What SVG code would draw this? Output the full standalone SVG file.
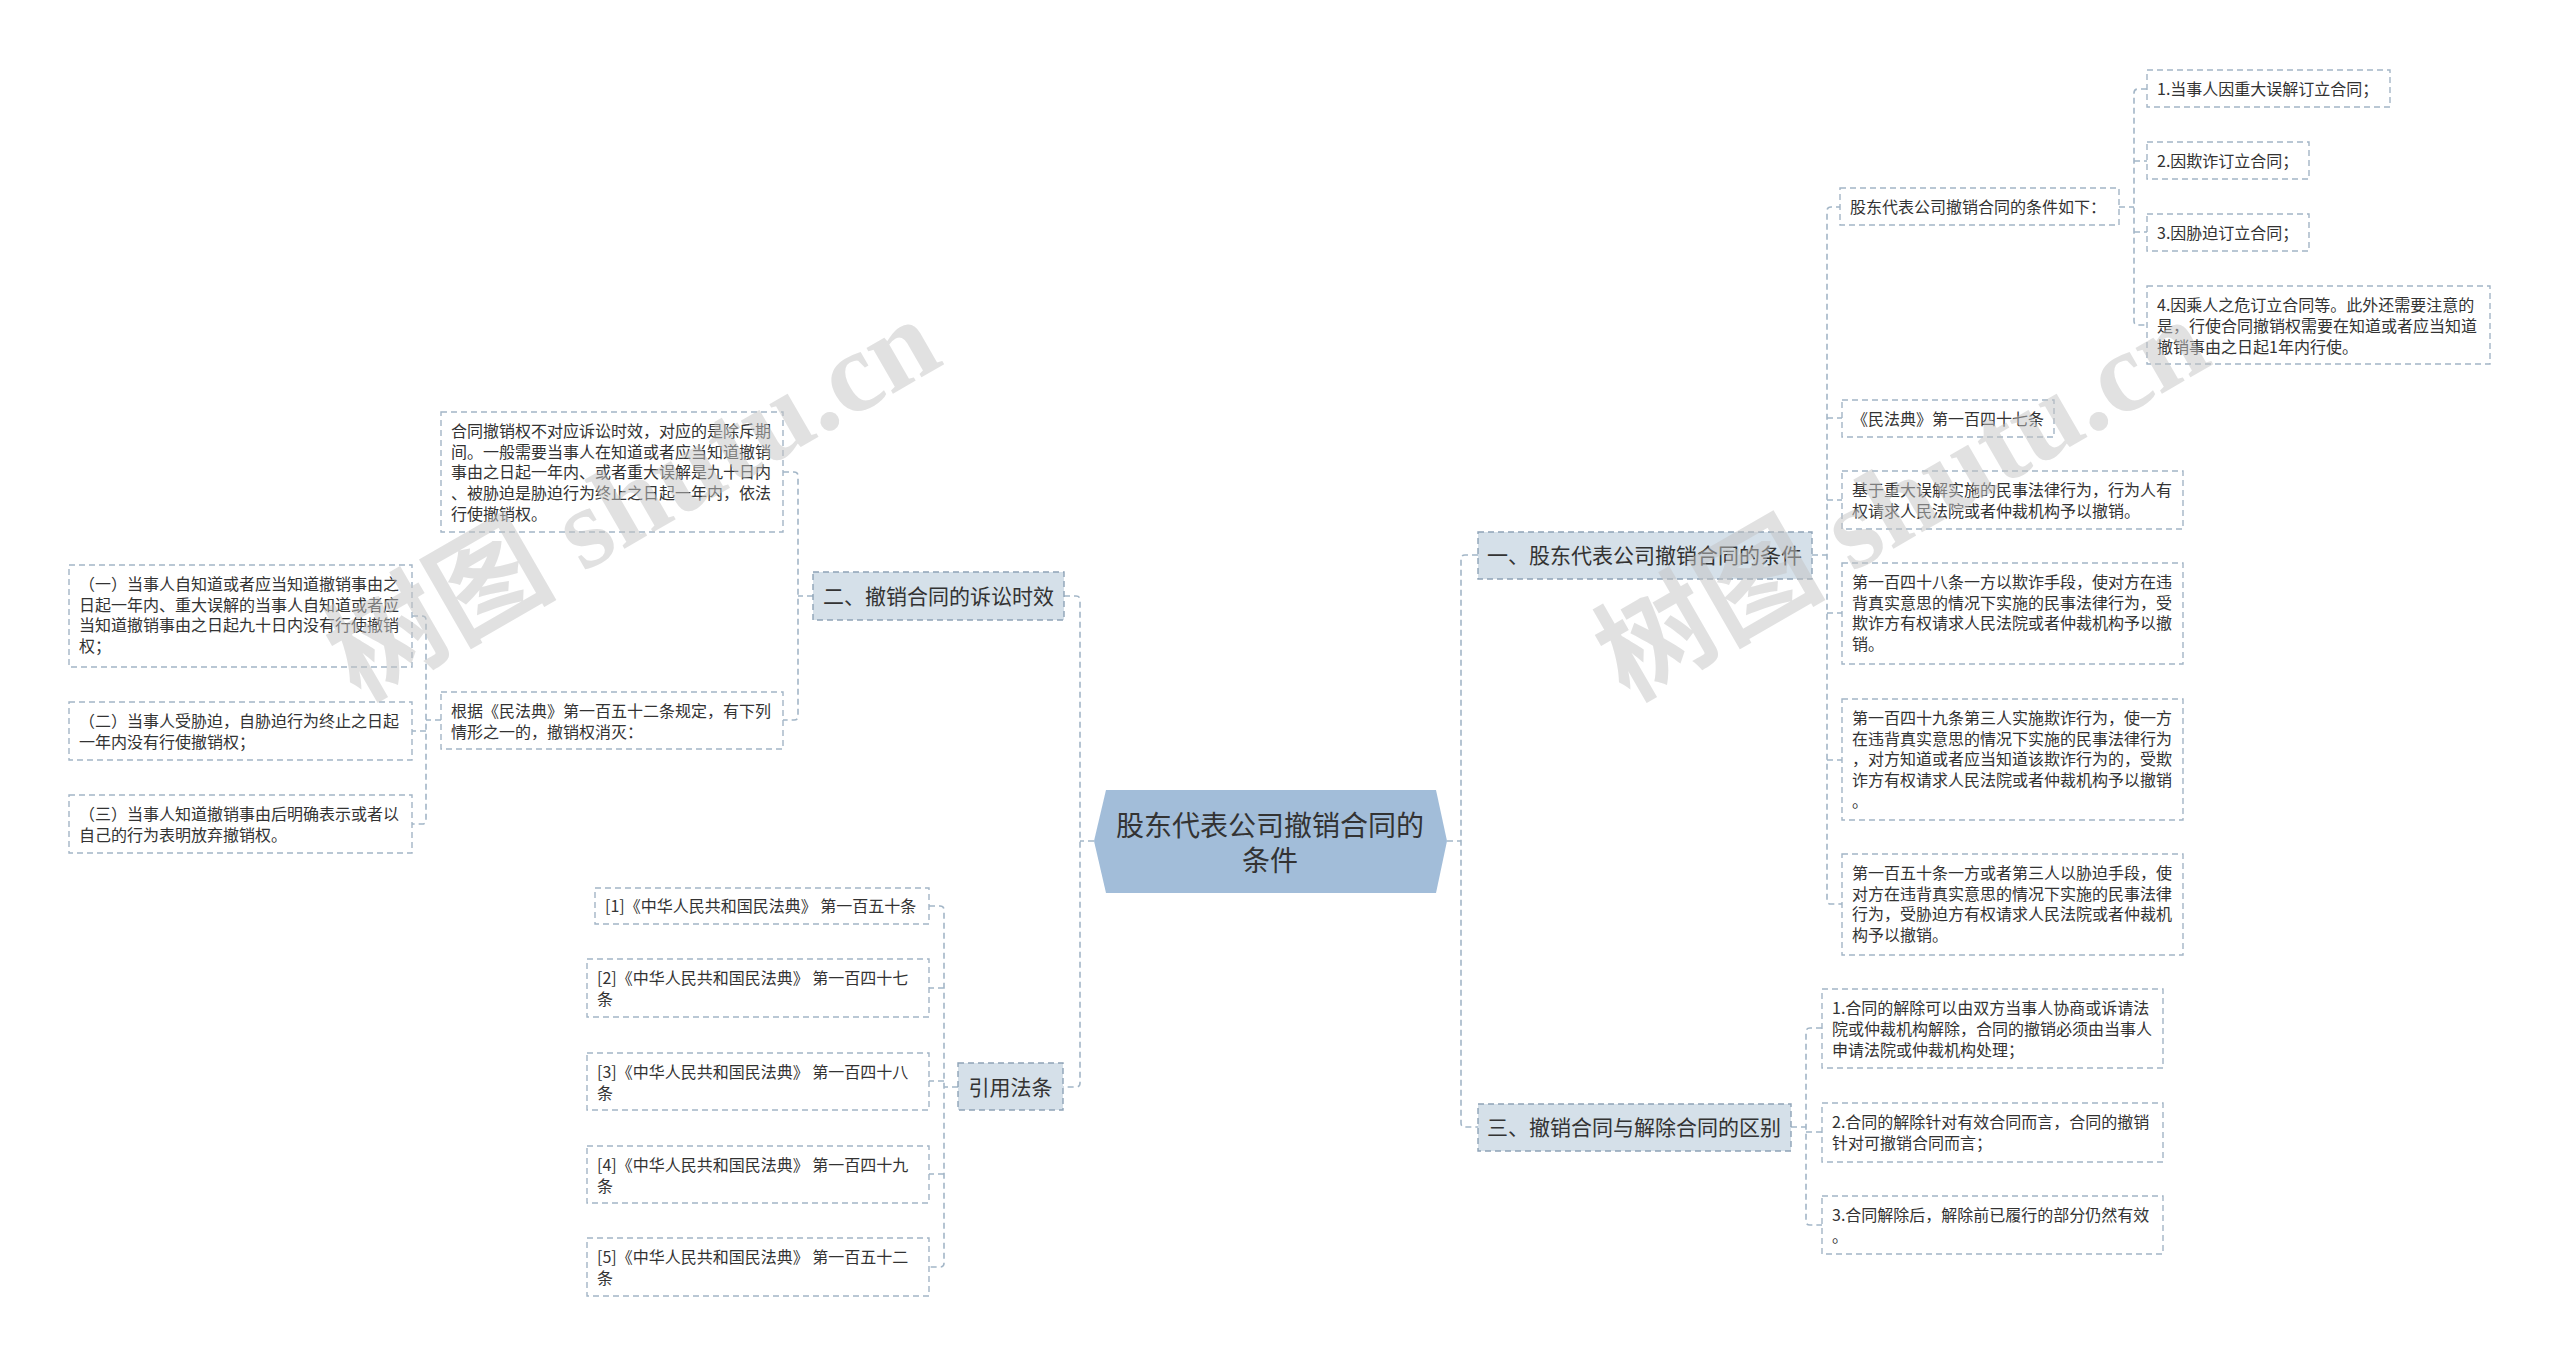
<svg xmlns="http://www.w3.org/2000/svg" width="2560" height="1366" viewBox="0 0 2560 1366">
<style>
text{font-family:"Noto Sans CJK SC","Noto Sans",sans-serif;fill:#333}
.leaf rect{fill:#fff;stroke:#a3b5c6;stroke-width:1.4;stroke-dasharray:6 4}
.leaf text{font-size:16px}
.br rect{fill:#d5e0e9;stroke:#8ea3b7;stroke-width:1.4;stroke-dasharray:6 4}
.br text{font-size:21px}
.conn path{fill:none;stroke:#a3b6c7;stroke-width:1.6;stroke-dasharray:6 4}
.wm{font-family:"Liberation Serif","Noto Sans CJK SC",serif;font-weight:bold;font-size:115px;fill:#c4c4c4;opacity:.5}
</style>
<rect width="2560" height="1366" fill="#fff"/>

<g id="connectors" class="conn">
<path d="M1478,555 H1465 Q1461,555 1461,559 V1123 Q1461,1127 1465,1127 H1478 M1447,841 H1461"/>
<path d="M1064,596 H1076 Q1080,596 1080,600 V1083 Q1080,1087 1076,1087 H1063 M1094,841 H1080"/>
<path d="M1842,207 H1831 Q1827,207 1827,211 V900 Q1827,904 1831,904 H1842 M1812,555 H1827 M1827,418 H1842 M1827,500 H1842 M1827,613 H1842 M1827,760 H1842"/>
<path d="M2147,89 H2138 Q2134,89 2134,93 V321 Q2134,325 2138,325 H2147 M2119,207 H2134 M2134,161 H2147 M2134,232 H2147"/>
<path d="M1822,1028 H1810 Q1806,1028 1806,1032 V1221 Q1806,1225 1810,1225 H1822 M1791,1127 H1806 M1806,1132 H1822"/>
<path d="M783,472 H794 Q798,472 798,476 V716 Q798,720 794,720 H783 M813,596 H798"/>
<path d="M412,616 H422 Q426,616 426,620 V820 Q426,824 422,824 H412 M441,720 H426 M426,731 H412"/>
<path d="M929,906 H940 Q944,906 944,910 V1263 Q944,1267 940,1267 H929 M958,1087 H944 M944,988 H929 M944,1081 H929 M944,1174 H929"/>
</g>

<g id="root">
<polygon points="1094,841 1106,790 1436,790 1447,841 1436,893 1106,893" fill="#a2bdd9"/>
<text x="1270" y="836" font-size="28" text-anchor="middle">股东代表公司撤销合同的</text>
<text x="1270" y="871" font-size="28" text-anchor="middle">条件</text>
</g>

<g id="b1" class="br"><rect x="1478" y="532" width="334" height="47"/><text x="1487" y="563">一、股东代表公司撤销合同的条件</text></g>
<g id="b2" class="br"><rect x="813" y="572" width="251" height="48"/><text x="823" y="604">二、撤销合同的诉讼时效</text></g>
<g id="b3" class="br"><rect x="1478" y="1104" width="313" height="47"/><text x="1487" y="1135">三、撤销合同与解除合同的区别</text></g>
<g id="b4" class="br"><rect x="958" y="1063" width="105" height="47"/><text x="1010.5" y="1095" text-anchor="middle">引用法条</text></g>

<g id="r0" class="leaf"><rect x="1840" y="188" width="279" height="37"/><text x="1850" y="213">股东代表公司撤销合同的条件如下：</text></g>
<g id="r0a" class="leaf"><rect x="2147" y="70" width="243" height="37"/><text x="2157" y="95">1.当事人因重大误解订立合同；</text></g>
<g id="r0b" class="leaf"><rect x="2147" y="142" width="162" height="37"/><text x="2157" y="167">2.因欺诈订立合同；</text></g>
<g id="r0c" class="leaf"><rect x="2147" y="214" width="162" height="37"/><text x="2157" y="239">3.因胁迫订立合同；</text></g>
<g id="r0d" class="leaf"><rect x="2147" y="286" width="343" height="78"/><text x="2157" y="311">4.因乘人之危订立合同等。此外还需要注意的</text><text x="2157" y="332">是，行使合同撤销权需要在知道或者应当知道</text><text x="2157" y="353">撤销事由之日起1年内行使。</text></g>

<g id="r1" class="leaf"><rect x="1842" y="400" width="212" height="37"/><text x="1852" y="425">《民法典》第一百四十七条</text></g>
<g id="r2" class="leaf"><rect x="1842" y="471" width="341" height="58"/><text x="1852" y="496">基于重大误解实施的民事法律行为，行为人有</text><text x="1852" y="517">权请求人民法院或者仲裁机构予以撤销。</text></g>
<g id="r3" class="leaf"><rect x="1842" y="563" width="341" height="101"/><text x="1852" y="588">第一百四十八条一方以欺诈手段，使对方在违</text><text x="1852" y="609">背真实意思的情况下实施的民事法律行为，受</text><text x="1852" y="629">欺诈方有权请求人民法院或者仲裁机构予以撤</text><text x="1852" y="650">销。</text></g>
<g id="r4" class="leaf"><rect x="1842" y="699" width="341" height="121"/><text x="1852" y="724">第一百四十九条第三人实施欺诈行为，使一方</text><text x="1852" y="745">在违背真实意思的情况下实施的民事法律行为</text><text x="1852" y="765">，对方知道或者应当知道该欺诈行为的，受欺</text><text x="1852" y="786">诈方有权请求人民法院或者仲裁机构予以撤销</text><text x="1852" y="807">。</text></g>
<g id="r5" class="leaf"><rect x="1842" y="854" width="341" height="101"/><text x="1852" y="879">第一百五十条一方或者第三人以胁迫手段，使</text><text x="1852" y="900">对方在违背真实意思的情况下实施的民事法律</text><text x="1852" y="920">行为，受胁迫方有权请求人民法院或者仲裁机</text><text x="1852" y="941">构予以撤销。</text></g>

<g id="r6" class="leaf"><rect x="1822" y="989" width="341" height="79"/><text x="1832" y="1014">1.合同的解除可以由双方当事人协商或诉请法</text><text x="1832" y="1035">院或仲裁机构解除，合同的撤销必须由当事人</text><text x="1832" y="1056">申请法院或仲裁机构处理；</text></g>
<g id="r7" class="leaf"><rect x="1822" y="1103" width="341" height="59"/><text x="1832" y="1128">2.合同的解除针对有效合同而言，合同的撤销</text><text x="1832" y="1149">针对可撤销合同而言；</text></g>
<g id="r8" class="leaf"><rect x="1822" y="1196" width="341" height="58"/><text x="1832" y="1221">3.合同解除后，解除前已履行的部分仍然有效</text><text x="1832" y="1242">。</text></g>

<g id="l1" class="leaf"><rect x="441" y="412" width="342" height="120"/><text x="451" y="437">合同撤销权不对应诉讼时效，对应的是除斥期</text><text x="451" y="458">间。一般需要当事人在知道或者应当知道撤销</text><text x="451" y="478">事由之日起一年内、或者重大误解是九十日内</text><text x="451" y="499">、被胁迫是胁迫行为终止之日起一年内，依法</text><text x="451" y="520">行使撤销权。</text></g>
<g id="l2" class="leaf"><rect x="441" y="692" width="342" height="57"/><text x="451" y="717">根据《民法典》第一百五十二条规定，有下列</text><text x="451" y="738">情形之一的，撤销权消灭：</text></g>
<g id="l3" class="leaf"><rect x="69" y="565" width="343" height="102"/><text x="79" y="590">（一）当事人自知道或者应当知道撤销事由之</text><text x="79" y="611">日起一年内、重大误解的当事人自知道或者应</text><text x="79" y="631">当知道撤销事由之日起九十日内没有行使撤销</text><text x="79" y="652">权；</text></g>
<g id="l4" class="leaf"><rect x="69" y="702" width="343" height="58"/><text x="79" y="727">（二）当事人受胁迫，自胁迫行为终止之日起</text><text x="79" y="748">一年内没有行使撤销权；</text></g>
<g id="l5" class="leaf"><rect x="69" y="795" width="343" height="58"/><text x="79" y="820">（三）当事人知道撤销事由后明确表示或者以</text><text x="79" y="841">自己的行为表明放弃撤销权。</text></g>

<g id="c1" class="leaf"><rect x="595" y="888" width="334" height="36"/><text x="605" y="912">[1]《中华人民共和国民法典》 第一百五十条</text></g>
<g id="c2" class="leaf"><rect x="587" y="959" width="342" height="58"/><text x="597" y="984">[2]《中华人民共和国民法典》 第一百四十七</text><text x="597" y="1005">条</text></g>
<g id="c3" class="leaf"><rect x="587" y="1053" width="342" height="57"/><text x="597" y="1078">[3]《中华人民共和国民法典》 第一百四十八</text><text x="597" y="1099">条</text></g>
<g id="c4" class="leaf"><rect x="587" y="1146" width="342" height="57"/><text x="597" y="1171">[4]《中华人民共和国民法典》 第一百四十九</text><text x="597" y="1192">条</text></g>
<g id="c5" class="leaf"><rect x="587" y="1238" width="342" height="58"/><text x="597" y="1263">[5]《中华人民共和国民法典》 第一百五十二</text><text x="597" y="1284">条</text></g>

<g id="watermark">
<text class="wm" transform="translate(359,702) rotate(-30)">树图 shutu.cn</text>
<text class="wm" transform="translate(1628,702) rotate(-30)">树图 shutu.cn</text>
</g>
</svg>
